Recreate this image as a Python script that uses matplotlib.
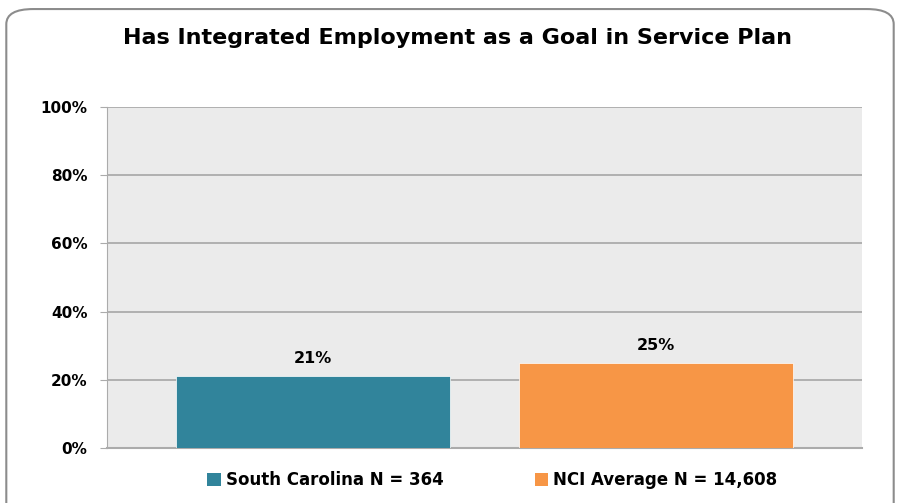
import matplotlib
matplotlib.use("Agg")
import matplotlib.pyplot as plt
from matplotlib.patches import FancyBboxPatch, Patch

# chart data
categories = ["South Carolina N = 364", "NCI Average N = 14,608"]
values = [21, 25]
colors = ["#31849B", "#F79646"]
yticks = [0, 20, 40, 60, 80, 100]

plt.rcParams["font.family"] = ["DejaVu Sans"]
plt.rcParams["font.weight"] = "bold"

fig = plt.figure(figsize=(9, 5.03), dpi=100)

# rounded outer frame, behind everything
frame = FancyBboxPatch((0.007, -0.05), 0.986, 1.032, boxstyle="round,pad=0,rounding_size=0.03",
                       transform=fig.transFigure, facecolor="white", edgecolor="#8C8C8C",
                       linewidth=1.5, zorder=-1)
fig.patches.append(frame)

ax = fig.add_axes([0.1189, 0.1093, 0.8389, 0.678])
ax.set_facecolor("#EBEBEB")

x = range(len(categories))
ax.bar(x, values, width=0.8, color=colors, edgecolor="white", linewidth=0.5, zorder=3)

for xi, v in zip(x, values):
    ax.text(xi, v + 3, f"{v}%", ha="center", va="bottom", fontsize=11.5, fontweight="bold")

ax.set_xlim(-0.6, 1.6)
ax.set_ylim(0, 100)
ax.set_yticks(yticks)
ax.set_yticklabels([f"{t}%" for t in yticks], fontsize=11, fontweight="bold")
ax.set_xticks([])
ax.grid(axis="y", color="#ABABAB", linewidth=1.3, zorder=1)
for s in ["top", "right"]:
    ax.spines[s].set_visible(False)
ax.spines["left"].set_color("#ABABAB")
ax.spines["bottom"].set_color("#ABABAB")
ax.spines["bottom"].set_linewidth(1.5)
ax.tick_params(axis="y", length=5, color="#ABABAB", pad=9)

fig.text(0.508, 0.925, "Has Integrated Employment as a Goal in Service Plan",
         ha="center", va="center", fontsize=16, fontweight="bold")

handles = [Patch(facecolor=c) for c in colors]
fig.legend(handles, categories, loc="center", bbox_to_anchor=(0.547, 0.045), ncol=2,
           frameon=False, fontsize=12, handlelength=0.8, handleheight=0.8,
           handletextpad=0.3, columnspacing=5.5)

fig.savefig("out.png", dpi=100)
